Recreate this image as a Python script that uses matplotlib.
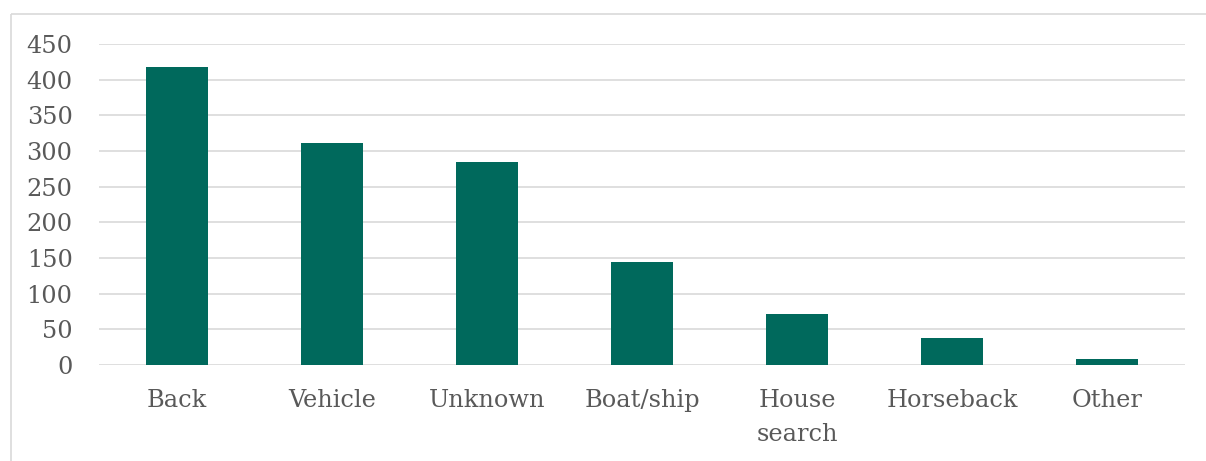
import matplotlib
matplotlib.use("Agg")
import matplotlib.pyplot as plt
from matplotlib.lines import Line2D

# values
categories = ["Back", "Vehicle", "Unknown", "Boat/ship", "House\nsearch", "Horseback", "Other"]
counts = [418, 311, 284, 145, 71, 38, 9]
yticks = [0, 50, 100, 150, 200, 250, 300, 350, 400, 450]

bar_color = "#00695C"
text_color = "#595959"
grid_color = "#D9D9D9"

plt.rcParams['font.family'] = ['DejaVu Serif']

fig = plt.figure(figsize=(12.06, 4.61), dpi=100)
ax = fig.add_axes([0.0821, 0.2082, 0.9005, 0.6964])

x = range(len(categories))
ax.bar(x, counts, width=0.4, color=bar_color, zorder=3)

ax.set_xlim(-0.5, len(categories) - 0.5)
ax.set_ylim(0, 450)
ax.set_yticks(yticks)
ax.set_xticks(list(x))
ax.set_xticklabels(categories, linespacing=1.62)

ax.yaxis.grid(True, color=grid_color, linewidth=1.2, zorder=0)
ax.tick_params(axis='both', length=0, colors=text_color, labelsize=17.3)
ax.tick_params(axis='y', pad=19)
ax.tick_params(axis='x', pad=17)
for s in ax.spines.values():
    s.set_visible(False)

# outer chart frame: only left and top edges are inside the picture
fx = 11 / 1206
fy = 1 - 14 / 461
fig.add_artist(Line2D([fx, fx], [0, fy], transform=fig.transFigure,
                      color=grid_color, linewidth=1.2, solid_capstyle='butt'))
fig.add_artist(Line2D([fx, 1], [fy, fy], transform=fig.transFigure,
                      color=grid_color, linewidth=1.2, solid_capstyle='butt'))

fig.savefig("out.png", dpi=100, facecolor="white")
